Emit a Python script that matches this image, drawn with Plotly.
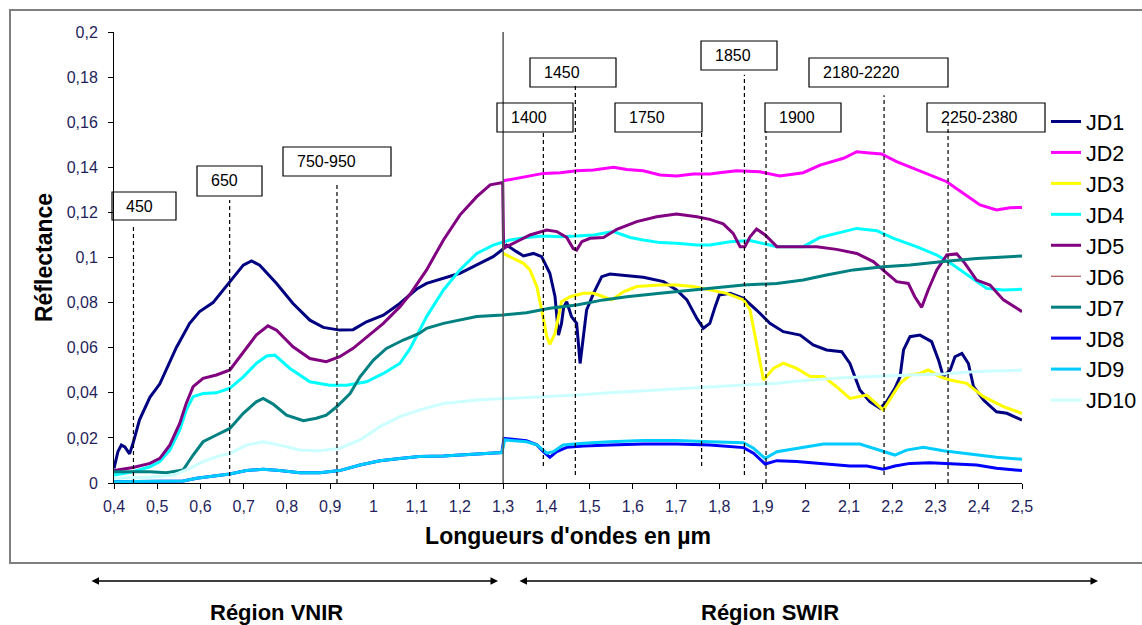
import plotly.graph_objects as go

# ---------------- data ----------------
series_names = ["JD1", "JD2", "JD3", "JD4", "JD5", "JD6", "JD7", "JD8", "JD9", "JD10"]

jd1_x = [0.4, 0.409, 0.417, 0.425, 0.436, 0.444, 0.459, 0.483, 0.506, 0.544, 0.575, 0.598, 0.629, 0.668,
         0.699, 0.718, 0.737, 0.776, 0.814, 0.853, 0.884, 0.922, 0.953, 0.984, 1.023, 1.061, 1.1, 1.123,
         1.162, 1.2, 1.239, 1.277, 1.297, 1.308, 1.331, 1.347, 1.37, 1.389, 1.408, 1.42, 1.428, 1.435,
         1.44, 1.447, 1.458, 1.47, 1.478, 1.484, 1.493, 1.509, 1.528, 1.547, 1.586, 1.624, 1.671, 1.701,
         1.725, 1.748, 1.763, 1.778, 1.79, 1.8, 1.825, 1.856, 1.886, 1.917, 1.948, 1.987, 2.017, 2.048,
         2.083, 2.102, 2.125, 2.148, 2.172, 2.187, 2.206, 2.218, 2.226, 2.241, 2.264, 2.291, 2.307, 2.318,
         2.334, 2.345, 2.361, 2.376, 2.388, 2.411, 2.441, 2.465, 2.5]
jd1_y = [0.0065, 0.0139, 0.0168, 0.016, 0.0129, 0.0176, 0.028, 0.038, 0.044, 0.06, 0.0708, 0.076, 0.08, 0.089,
         0.0966, 0.0985, 0.0966, 0.0885, 0.0796, 0.0722, 0.069, 0.0678, 0.068, 0.0715, 0.0744, 0.0796, 0.086, 0.0885,
         0.0908, 0.093, 0.0967, 0.1004, 0.1033, 0.1055, 0.1026, 0.1007, 0.1018, 0.1004, 0.093, 0.0826, 0.0656, 0.0708,
         0.078, 0.0804, 0.0738, 0.0708, 0.053, 0.0634, 0.0767, 0.0841, 0.0915, 0.0927, 0.0918, 0.0912, 0.0893, 0.0856,
         0.0812, 0.073, 0.0686, 0.0708, 0.078, 0.0834, 0.0841, 0.0819, 0.0767, 0.0708, 0.0671, 0.0656, 0.0612, 0.059,
         0.0582, 0.053, 0.0412, 0.0361, 0.0331, 0.0361, 0.042, 0.0472, 0.059, 0.0649, 0.0656, 0.0627, 0.0545, 0.0472,
         0.0501, 0.056, 0.0575, 0.053, 0.0427, 0.0368, 0.0316, 0.0309, 0.0279]

jd2_x = [1.3, 1.354, 1.393, 1.432, 1.47, 1.509, 1.555, 1.586, 1.624, 1.663, 1.701, 1.74, 1.778, 1.8, 1.84,
         1.894, 1.94, 1.994, 2.033, 2.087, 2.118, 2.141, 2.175, 2.21, 2.249, 2.287, 2.326, 2.364, 2.403,
         2.441, 2.472, 2.5]
jd2_y = [0.134, 0.136, 0.1373, 0.1376, 0.1385, 0.1388, 0.14, 0.139, 0.1385, 0.1366, 0.1361, 0.137, 0.137, 0.1376, 0.1385,
         0.138, 0.1361, 0.1376, 0.141, 0.144, 0.1469, 0.1465, 0.1459, 0.1425, 0.1395, 0.1366, 0.1336, 0.1285, 0.1233,
         0.1211, 0.1221, 0.1222]

jd3_x = [1.3, 1.324, 1.347, 1.362, 1.378, 1.389, 1.401, 1.408, 1.42, 1.435, 1.455, 1.486, 1.509, 1.532, 1.551,
         1.578, 1.609, 1.663, 1.701, 1.74, 1.778, 1.817, 1.856, 1.871, 1.886, 1.902, 1.925, 1.948, 1.979, 2.01,
         2.041, 2.071, 2.102, 2.141, 2.179, 2.199, 2.218, 2.241, 2.264, 2.283, 2.31, 2.334, 2.372, 2.411, 2.457, 2.5]
jd3_y = [0.1018, 0.0996, 0.0974, 0.0945, 0.0871, 0.0767, 0.0649, 0.0615, 0.0664, 0.0804, 0.0826, 0.0841, 0.0841, 0.0826, 0.0812,
         0.0848, 0.0871, 0.0878, 0.0878, 0.0871, 0.0856, 0.0841, 0.0812, 0.0767, 0.0619, 0.0457, 0.0508, 0.0531, 0.0508, 0.0472,
         0.0472, 0.0427, 0.0375, 0.039, 0.0324, 0.0383, 0.0442, 0.0479, 0.0486, 0.0501, 0.0472, 0.0457, 0.0442, 0.0383, 0.0339, 0.0309]

jd4_x = [0.4, 0.444, 0.483, 0.506, 0.529, 0.552, 0.567, 0.583, 0.606, 0.637, 0.668, 0.699, 0.729, 0.753, 0.772,
         0.807, 0.853, 0.899, 0.938, 0.984, 1.023, 1.061, 1.085, 1.123, 1.162, 1.2, 1.239, 1.277, 1.316, 1.354,
         1.393, 1.432, 1.47, 1.509, 1.555, 1.594, 1.624, 1.663, 1.701, 1.748, 1.778, 1.825, 1.871, 1.933, 1.994,
         2.033, 2.071, 2.118, 2.164, 2.203, 2.256, 2.303, 2.341, 2.38, 2.418, 2.457, 2.5]
jd4_y = [0.0035, 0.005, 0.0072, 0.0095, 0.0146, 0.0235, 0.0323, 0.0383, 0.0397, 0.04, 0.042, 0.0471, 0.053, 0.0563, 0.0567,
         0.0508, 0.0449, 0.0434, 0.0434, 0.0449, 0.0486, 0.053, 0.0597, 0.0738, 0.0856, 0.0945, 0.1018, 0.1055, 0.1078, 0.1089,
         0.1095, 0.1092, 0.1095, 0.11, 0.1115, 0.1089, 0.1078, 0.1066, 0.1063, 0.1055, 0.1055, 0.107, 0.1075, 0.1048, 0.1048,
         0.1089, 0.1107, 0.1129, 0.1119, 0.1085, 0.1048, 0.1011, 0.0967, 0.0915, 0.0863, 0.0856, 0.0859]

jd5_x = [0.4, 0.444, 0.483, 0.506, 0.529, 0.552, 0.567, 0.583, 0.606, 0.637, 0.668, 0.699, 0.729, 0.756, 0.776,
         0.814, 0.853, 0.891, 0.922, 0.953, 0.984, 1.023, 1.061, 1.085, 1.123, 1.162, 1.2, 1.239, 1.27, 1.299,
         1.301, 1.308, 1.331, 1.362, 1.401, 1.424, 1.447, 1.462, 1.47, 1.482, 1.501, 1.532, 1.563, 1.609, 1.655,
         1.701, 1.748, 1.778, 1.809, 1.832, 1.848, 1.859, 1.871, 1.886, 1.906, 1.933, 1.979, 2.025, 2.071, 2.118,
         2.156, 2.187, 2.21, 2.237, 2.252, 2.268, 2.283, 2.303, 2.326, 2.349, 2.368, 2.395, 2.426, 2.457, 2.5]
jd5_y = [0.0055, 0.0069, 0.0087, 0.0109, 0.0168, 0.0264, 0.0353, 0.0427, 0.0464, 0.0479, 0.0501, 0.0582, 0.0656, 0.0697, 0.0678,
         0.0604, 0.0552, 0.0538, 0.056, 0.0597, 0.0648, 0.0708, 0.0781, 0.0838, 0.0945, 0.1078, 0.1188, 0.127, 0.1322, 0.1332,
         0.104, 0.1048, 0.107, 0.11, 0.1122, 0.1115, 0.1089, 0.104, 0.1033, 0.107, 0.1085, 0.1089, 0.1125, 0.1159, 0.1181,
         0.1193, 0.1181, 0.1169, 0.1149, 0.1107, 0.1048, 0.1048, 0.1092, 0.1126, 0.11, 0.1048, 0.1048, 0.1048, 0.1036, 0.1018,
         0.0982, 0.093, 0.0893, 0.0885, 0.0826, 0.0779, 0.0856, 0.0945, 0.1011, 0.1016, 0.0974, 0.09, 0.0878, 0.0812, 0.076]

# JD6 is listed in the legend but has no visible curve in the chart
jd6_x = [0.4, 2.5]
jd6_y = [None, None]

jd7_x = [0.4, 0.444, 0.483, 0.521, 0.56, 0.583, 0.606, 0.637, 0.668, 0.699, 0.729, 0.745, 0.768, 0.799, 0.838,
         0.868, 0.891, 0.915, 0.946, 0.969, 1.0, 1.03, 1.069, 1.106, 1.123, 1.162, 1.2, 1.239, 1.3, 1.354, 1.408,
         1.47, 1.532, 1.586, 1.663, 1.74, 1.778, 1.856, 1.933, 1.994, 2.048, 2.11, 2.179, 2.241, 2.318, 2.395, 2.5]
jd7_y = [0.005, 0.005, 0.005, 0.0046, 0.0058, 0.0124, 0.0183, 0.0213, 0.0242, 0.0309, 0.036, 0.0375, 0.035, 0.0301, 0.0276,
         0.0287, 0.0301, 0.0338, 0.0397, 0.0471, 0.0545, 0.0597, 0.0634, 0.0663, 0.0686, 0.0708, 0.0723, 0.0738, 0.0745, 0.0755, 0.0775,
         0.0789, 0.0812, 0.0826, 0.0841, 0.0856, 0.0863, 0.0878, 0.0885, 0.09, 0.0922, 0.0945, 0.0959, 0.0967, 0.0982, 0.0996, 0.1007]

jd8_x = [0.4, 0.483, 0.56, 0.591, 0.629, 0.668, 0.706, 0.745, 0.783, 0.83, 0.876, 0.922, 0.969, 1.015, 1.061,
         1.106, 1.162, 1.239, 1.297, 1.302, 1.354, 1.378, 1.393, 1.408, 1.424, 1.447, 1.486, 1.547, 1.624, 1.701,
         1.778, 1.856, 1.879, 1.906, 1.933, 1.979, 2.041, 2.102, 2.141, 2.179, 2.206, 2.241, 2.287, 2.334, 2.395,
         2.441, 2.5]
jd8_y = [0.0006, 0.0006, 0.0009, 0.0021, 0.0031, 0.004, 0.0055, 0.0061, 0.0055, 0.0046, 0.0046, 0.0055, 0.008, 0.0099, 0.0109,
         0.0117, 0.012, 0.0129, 0.0135, 0.0198, 0.0188, 0.0169, 0.0139, 0.0114, 0.0139, 0.0158, 0.0164, 0.0169, 0.0173, 0.0173,
         0.0169, 0.0157, 0.0132, 0.0084, 0.0099, 0.0095, 0.0084, 0.0075, 0.0075, 0.0061, 0.0075, 0.0087, 0.009, 0.0087, 0.008,
         0.0065, 0.0055]

jd9_x = [0.4, 0.483, 0.56, 0.591, 0.629, 0.668, 0.706, 0.745, 0.783, 0.83, 0.876, 0.922, 0.969, 1.015, 1.061,
         1.106, 1.162, 1.239, 1.297, 1.304, 1.354, 1.378, 1.401, 1.416, 1.439, 1.486, 1.547, 1.624, 1.701, 1.778,
         1.856, 1.879, 1.906, 1.933, 1.979, 2.041, 2.125, 2.172, 2.206, 2.233, 2.272, 2.318, 2.38, 2.441, 2.5]
jd9_y = [0.0006, 0.0006, 0.0009, 0.0021, 0.0031, 0.004, 0.0055, 0.0061, 0.0055, 0.0046, 0.0046, 0.0055, 0.008, 0.0099, 0.0109,
         0.0117, 0.012, 0.0129, 0.0135, 0.0191, 0.0183, 0.0169, 0.0132, 0.0139, 0.0169, 0.0176, 0.0183, 0.0188, 0.0188, 0.0183,
         0.0179, 0.0154, 0.0109, 0.0139, 0.0154, 0.0173, 0.0173, 0.0146, 0.0124, 0.0146, 0.0158, 0.0143, 0.0129, 0.0114, 0.0105]

jd10_x = [0.4, 0.483, 0.537, 0.575, 0.606, 0.637, 0.668, 0.706, 0.745, 0.783, 0.83, 0.876, 0.922, 0.969, 1.015,
          1.061, 1.106, 1.162, 1.239, 1.316, 1.393, 1.47, 1.547, 1.624, 1.701, 1.778, 1.856, 1.933, 2.01, 2.087,
          2.164, 2.241, 2.318, 2.395, 2.5]
jd10_y = [0.0021, 0.0025, 0.0035, 0.0065, 0.0095, 0.0117, 0.0131, 0.0168, 0.0183, 0.0168, 0.0146, 0.0143, 0.0154, 0.0191, 0.025,
          0.0294, 0.0323, 0.0353, 0.0368, 0.0375, 0.0383, 0.039, 0.04, 0.0409, 0.042, 0.0427, 0.0435, 0.0442, 0.0457, 0.0467,
          0.0474, 0.0479, 0.0483, 0.0494, 0.0501]

series_x = [jd1_x, jd2_x, jd3_x, jd4_x, jd5_x, jd6_x, jd7_x, jd8_x, jd9_x, jd10_x]
series_y = [jd1_y, jd2_y, jd3_y, jd4_y, jd5_y, jd6_y, jd7_y, jd8_y, jd9_y, jd10_y]

# absorption-band markers (wavelength in µm where the dashed line is drawn, label)
band_labels = ["450", "650", "750-950", "1400", "1450", "1750", "1850", "1900", "2180-2220", "2250-2380"]
band_pos = [0.445, 0.6675, 0.9157, 1.393, 1.467, 1.759, 1.858, 1.908, 2.181, 2.329]

x_ticks = [0.4, 0.5, 0.6, 0.7, 0.8, 0.9, 1.0, 1.1, 1.2, 1.3, 1.4, 1.5, 1.6, 1.7, 1.8, 1.9, 2.0, 2.1, 2.2, 2.3, 2.4, 2.5]
y_ticks = [0, 0.02, 0.04, 0.06, 0.08, 0.1, 0.12, 0.14, 0.16, 0.18, 0.2]

# ---------------- styles / layout ----------------
colors = ["#000080", "#FF00FF", "#FFFF00", "#00FFFF", "#800080", "#993333", "#008080", "#0000FF", "#00CCFF", "#CCFFFF"]
widths = [3, 3, 3, 3, 3, 1, 3, 3, 3, 3]

W, H = 1142, 625
L, R, T, B = 114, 1022, 32, 483   # plot area in pixels


def px_x(p):
    return (p - L) / (R - L)


def px_y(p):
    return (B - p) / (B - T)


FONT = "Arial, Liberation Sans, sans-serif"

# marker line extents (bottom, top) in reflectance and label box geometry in pixels
band_line_y = [(0, 0.1135), (0, 0.1255), (0, 0.133), (0.0075, 0.1565), (0.0035, 0.1765), (0.0075, 0.156),
               (0.0035, 0.181), (0, 0.156), (0.0035, 0.172), (0, 0.160)]
band_box_px = [(112, 176, 192, 220), (197, 262, 166, 196), (283, 391, 147, 176), (497, 573, 103, 132),
               (530, 616, 58, 87), (615, 702, 103, 132), (701, 777, 41, 70), (765, 841, 103, 132),
               (809, 948, 58, 87), (927, 1045, 103, 132)]

fig = go.Figure()
for name, xs, ys, c, w in zip(series_names, series_x, series_y, colors, widths):
    fig.add_trace(go.Scatter(x=xs, y=ys, mode="lines", name=name, showlegend=True,
                             line=dict(color=c, width=w)))

shapes = []
annotations = []

# outer frame
shapes.append(dict(type="rect", xref="paper", yref="paper", x0=px_x(10), x1=px_x(1150), y0=px_y(563), y1=px_y(10),
                   line=dict(color="#7f7f7f", width=2), layer="below"))

# solid VNIR/SWIR boundary
shapes.append(dict(type="line", xref="x", yref="y", x0=1.3, x1=1.3, y0=0, y1=0.2,
                   line=dict(color="#555555", width=1.5)))

for lab, xpos, (y0, y1), (bx0, bx1, by0, by1) in zip(band_labels, band_pos, band_line_y, band_box_px):
    shapes.append(dict(type="line", xref="x", yref="y", x0=xpos, x1=xpos, y0=y0, y1=y1,
                       line=dict(color="#000000", width=1.2, dash="4px,3px")))
    shapes.append(dict(type="rect", xref="paper", yref="paper", x0=px_x(bx0), x1=px_x(bx1),
                       y0=px_y(by1), y1=px_y(by0), line=dict(color="#000000", width=1.2),
                       fillcolor="rgba(255,255,255,0)"))
    annotations.append(dict(xref="paper", yref="paper", x=px_x(bx0 + 12), y=px_y((by0 + by1) / 2),
                            xanchor="left", yanchor="middle", text=lab, showarrow=False,
                            font=dict(family=FONT, size=16, color="#000000")))

# region arrows
for xa, xb in [(90, 498), (518, 1098)]:
    annotations.append(dict(xref="paper", yref="paper", x=px_x(xb), y=px_y(581), ax=-(xb - xa), ay=0,
                            axref="pixel", ayref="pixel", text="", showarrow=True, arrowhead=2,
                            arrowside="end+start", arrowsize=1, arrowwidth=1.5, arrowcolor="#000000"))
annotations.append(dict(xref="paper", yref="paper", x=px_x(276), y=px_y(612), xanchor="center", yanchor="middle",
                        text="<b>Région VNIR</b>", showarrow=False,
                        font=dict(family=FONT, size=22, color="#000000")))
annotations.append(dict(xref="paper", yref="paper", x=px_x(770), y=px_y(612), xanchor="center", yanchor="middle",
                        text="<b>Région SWIR</b>", showarrow=False,
                        font=dict(family=FONT, size=22, color="#000000")))

tick_font = dict(family=FONT, size=16, color="#1f1f5c")

fig.update_layout(
    width=W, height=H, autosize=False,
    margin=dict(l=L, r=W - R, t=T, b=H - B, pad=0, autoexpand=False),
    paper_bgcolor="white", plot_bgcolor="white",
    shapes=shapes, annotations=annotations,
    legend=dict(x=px_x(1046), y=px_y(101), xanchor="left", yanchor="top",
                font=dict(family=FONT, size=21.5, color="#000000"),
                bgcolor="rgba(0,0,0,0)", borderwidth=0, tracegroupgap=0),
    xaxis=dict(range=[0.4, 2.5], tickvals=x_ticks,
               ticktext=[f"{v:g}".replace(".", ",") for v in x_ticks],
               showgrid=False, zeroline=False, showline=True, linecolor="#000000", linewidth=1,
               ticks="outside", ticklen=5, tickcolor="#000000", tickfont=tick_font, ticklabelstandoff=4,
               title=dict(text="<b>Longueurs d'ondes en µm</b>", standoff=13,
                          font=dict(family=FONT, size=23, color="#000000"))),
    yaxis=dict(range=[0, 0.2], tickvals=y_ticks,
               ticktext=[f"{v:g}".replace(".", ",") for v in y_ticks],
               showgrid=False, zeroline=False, showline=True, linecolor="#000000", linewidth=1,
               ticks="outside", ticklen=5, tickcolor="#000000", tickfont=tick_font, ticklabelstandoff=7,
               title=dict(text="<b>Réflectance</b>", standoff=7,
                          font=dict(family=FONT, size=23, color="#000000"))),
)

fig.write_html("out.html", config={"displayModeBar": False},
               post_script="document.body.style.margin='0';")
